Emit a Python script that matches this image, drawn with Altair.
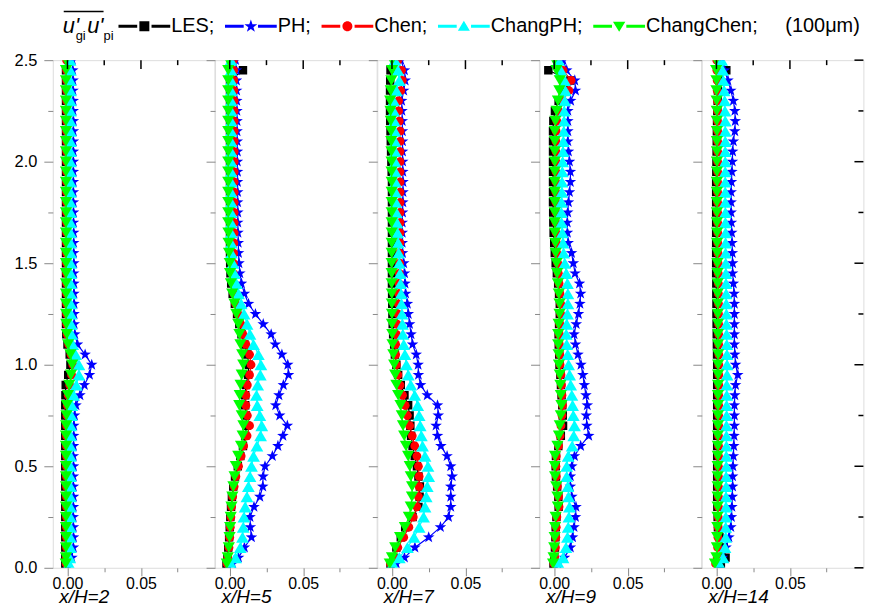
import altair as alt
import pandas as pd

FONT = "Liberation Sans"

# ---------------- data ----------------
Y = [0.02, 0.05, 0.1, 0.15, 0.2, 0.25, 0.3, 0.35, 0.4, 0.45,
     0.5, 0.55, 0.6, 0.65, 0.7, 0.75, 0.8, 0.85, 0.9, 0.95,
     1.0, 1.05, 1.1, 1.15, 1.2, 1.25, 1.3, 1.35, 1.4, 1.45,
     1.5, 1.55, 1.6, 1.65, 1.7, 1.75, 1.8, 1.85, 1.9, 1.95,
     2.0, 2.05, 2.1, 2.15, 2.2, 2.25, 2.3, 2.35, 2.4, 2.45,
     2.5]

PANELS = [2, 5, 7, 9, 14]
SERIES = ["LES", "PH", "Chen", "ChangPH", "ChangChen"]
COLORS = ["#000000", "#0000ff", "#ff0000", "#00ffff", "#00ff00"]

X_MAJOR = [0.0, 0.05]
X_MINOR = [0.025, 0.075]
Y_MAJOR = [0.0, 0.5, 1.0, 1.5, 2.0, 2.5]
Y_MINOR = [0.25, 0.75, 1.25, 1.75, 2.25]

# x/H = 2
LES_2 = [-0.0015, -0.0015, -0.0015, -0.0015, -0.0015, -0.0015, -0.0015, -0.0015, -0.0015, -0.0015,
         -0.0015, -0.0015, -0.0015, -0.0015, -0.0015, -0.0015, -0.0015, -0.0014, -0.0012, 0.0005,
         0.002, 0.0015, 0.0, -0.0008, -0.001, -0.001, -0.001, -0.001, -0.001, -0.001,
         -0.001, -0.001, -0.001, -0.001, -0.001, -0.001, -0.001, -0.001, -0.001, -0.001,
         -0.001, -0.001, -0.001, -0.001, -0.001, -0.001, -0.001, -0.001, -0.001, -0.001,
         None]
PH_2 = [0.0, 0.003, 0.004, 0.0041, 0.004, 0.0039, 0.004, 0.0041, 0.004, 0.004,
        0.0041, 0.004, 0.0041, 0.0042, 0.0043, 0.0048, 0.0058, 0.0085, 0.0115, 0.015,
        0.0165, 0.012, 0.0068, 0.005, 0.0046, 0.0045, 0.0045, 0.0044, 0.0044, 0.0043,
        0.0043, 0.0042, 0.0042, 0.0042, 0.0041, 0.0041, 0.004, 0.004, 0.004, 0.004,
        0.004, 0.004, 0.004, 0.004, 0.004, 0.0039, 0.0039, 0.0038, 0.0038, 0.0036,
        0.0034]
CHEN_2 = [-0.0009, -0.0008, -0.0007, -0.0007, -0.0007, -0.0007, -0.0007, -0.0007, -0.0007, -0.0007,
          -0.0007, -0.0007, -0.0007, -0.0007, -0.0006, -0.0004, -0.0001, 0.0005, 0.0015, 0.0028,
          0.0036, 0.0024, 0.0008, -0.0002, -0.0005, -0.0006, -0.0006, -0.0006, -0.0006, -0.0006,
          -0.0006, -0.0006, -0.0006, -0.0006, -0.0006, -0.0006, -0.0006, -0.0006, -0.0006, -0.0006,
          -0.0006, -0.0006, -0.0006, -0.0006, -0.0006, -0.0006, -0.0006, -0.0006, -0.0006, -0.0006,
          -0.0006]
CPH_2 = [0.001, 0.0015, 0.002, 0.002, 0.002, 0.002, 0.002, 0.002, 0.002, 0.002,
         0.002, 0.002, 0.002, 0.0021, 0.0022, 0.0026, 0.003, 0.0042, 0.006, 0.0078,
         0.0078, 0.0055, 0.0036, 0.0028, 0.0025, 0.0024, 0.0023, 0.0023, 0.0022, 0.0022,
         0.0022, 0.0022, 0.0021, 0.0021, 0.0021, 0.0021, 0.002, 0.002, 0.002, 0.002,
         0.002, 0.002, 0.002, 0.002, 0.002, 0.002, 0.002, 0.002, 0.0019, 0.0019,
         0.0018]
CCH_2 = [-0.0012, -0.001, -0.001, -0.001, -0.001, -0.001, -0.001, -0.001, -0.001, -0.001,
         -0.001, -0.001, -0.001, -0.001, -0.0009, -0.0007, -0.0004, 0.0003, 0.0012, 0.0024,
         0.0032, 0.002, 0.0004, -0.0005, -0.0008, -0.0009, -0.001, -0.001, -0.001, -0.001,
         -0.001, -0.001, -0.001, -0.001, -0.001, -0.001, -0.001, -0.001, -0.001, -0.001,
         -0.001, -0.001, -0.001, -0.001, -0.001, -0.001, -0.001, -0.001, -0.001, -0.001,
         -0.001]

# x/H = 5
LES_5 = [-0.0022, -0.0016, -0.001, -0.0004, 0.0, 0.0004, 0.0009, 0.0015, 0.0024, 0.0036,
         0.0055, 0.0072, 0.009, 0.0105, 0.0115, 0.011, 0.0105, 0.0105, 0.011, 0.0125,
         0.013, 0.012, 0.01, 0.008, 0.0065, 0.005, 0.0035, 0.002, 0.001, 0.0005,
         0.0003, 0.0002, 0.0002, 0.0002, 0.0002, 0.0002, 0.0002, 0.0002, 0.0002, 0.0002,
         0.0002, 0.0002, 0.0002, 0.0002, 0.0002, 0.0002, 0.0002, 0.0002, 0.0002, 0.009,
         None]
PH_5 = [0.002, 0.006, 0.01, 0.0148, 0.014, 0.0138, 0.0165, 0.0205, 0.0225, 0.0227,
        0.024, 0.029, 0.0328, 0.0362, 0.0392, 0.034, 0.0313, 0.0335, 0.0365, 0.04,
        0.0395, 0.0355, 0.031, 0.0282, 0.0228, 0.0175, 0.0128, 0.01, 0.008, 0.0069,
        0.0063, 0.006, 0.0058, 0.0056, 0.0055, 0.0055, 0.0054, 0.0054, 0.0053, 0.0053,
        0.0052, 0.0052, 0.0051, 0.005, 0.005, 0.0049, 0.0048, 0.0047, 0.0046, 0.0045,
        0.004]
CHEN_5 = [-0.0018, -0.0012, -0.0005, 0.0, 0.0004, 0.0008, 0.0013, 0.002, 0.003, 0.0042,
          0.006, 0.0078, 0.0095, 0.0118, 0.0135, 0.012, 0.011, 0.011, 0.012, 0.0135,
          0.0145, 0.0135, 0.011, 0.009, 0.0075, 0.0055, 0.004, 0.0028, 0.0024, 0.0024,
          0.0025, 0.0027, 0.0028, 0.003, 0.003, 0.003, 0.003, 0.003, 0.003, 0.003,
          0.003, 0.003, 0.003, 0.003, 0.003, 0.003, 0.003, 0.0029, 0.0028, 0.0027,
          0.0025]
CPH_5 = [0.0008, 0.004, 0.0072, 0.0087, 0.0092, 0.0097, 0.0105, 0.0117, 0.0127, 0.0138,
         0.0148, 0.0162, 0.0185, 0.021, 0.0218, 0.0205, 0.0187, 0.0182, 0.019, 0.0208,
         0.0212, 0.0195, 0.0162, 0.0138, 0.0118, 0.0098, 0.0078, 0.006, 0.0045, 0.0032,
         0.0022, 0.0012, 0.001, 0.001, 0.001, 0.001, 0.001, 0.001, 0.001, 0.001,
         0.001, 0.001, 0.001, 0.001, 0.001, 0.001, 0.001, 0.001, 0.001, 0.0009,
         0.0008]
CCH_5 = [-0.002, -0.0013, -0.0006, -0.0001, 0.0003, 0.0007, 0.0012, 0.0018, 0.0025, 0.0033,
         0.0042, 0.0058, 0.0077, 0.0088, 0.0093, 0.0082, 0.0065, 0.0068, 0.0074, 0.0082,
         0.0092, 0.0085, 0.0073, 0.0066, 0.0058, 0.0045, 0.0032, 0.0017, 0.0008, 0.0002,
         0.0, -0.0005, -0.0008, -0.0009, -0.001, -0.001, -0.001, -0.001, -0.001, -0.001,
         -0.001, -0.001, -0.001, -0.001, -0.001, -0.001, -0.001, -0.001, -0.001, -0.001,
         -0.001]

# x/H = 7
LES_7 = [-0.001, 0.001, 0.003, 0.006, 0.009, 0.014, 0.018, 0.0188, 0.019, 0.018,
         0.017, 0.0155, 0.014, 0.013, 0.0125, 0.012, 0.011, 0.0085, 0.006, 0.0042,
         0.003, 0.002, 0.0015, 0.0008, 0.0005, 0.0003, 0.0002, 0.0001, 0.0, 0.0,
         0.0, 0.0, 0.0, 0.0, 0.0, 0.0, 0.0, 0.0, 0.0, -0.0002,
         -0.0004, -0.0006, -0.0008, -0.001, -0.0012, -0.0013, -0.0013, -0.0013, -0.0012, -0.001,
         None]
PH_7 = [0.003, 0.0085, 0.0156, 0.025, 0.033, 0.0385, 0.04, 0.04, 0.04, 0.041,
        0.04, 0.0375, 0.0333, 0.031, 0.03, 0.0315, 0.031, 0.024, 0.0195, 0.018,
        0.0178, 0.0165, 0.014, 0.013, 0.012, 0.0111, 0.0105, 0.0093, 0.0089, 0.0086,
        0.008, 0.0072, 0.007, 0.007, 0.007, 0.0072, 0.0074, 0.0075, 0.0075, 0.0074,
        0.0073, 0.0072, 0.0072, 0.0071, 0.007, 0.0068, 0.0066, 0.008, 0.009, 0.0085,
        0.006]
CHEN_7 = [-0.001, 0.001, 0.004, 0.008, 0.0115, 0.0145, 0.017, 0.018, 0.0185, 0.0185,
          0.018, 0.017, 0.0155, 0.0138, 0.012, 0.0105, 0.009, 0.0072, 0.0055, 0.004,
          0.003, 0.0025, 0.0025, 0.003, 0.0035, 0.004, 0.0043, 0.0046, 0.0048, 0.005,
          0.0052, 0.0053, 0.0054, 0.0055, 0.0055, 0.0055, 0.0055, 0.0055, 0.0055, 0.0055,
          0.0055, 0.0055, 0.0055, 0.0055, 0.005, 0.0045, 0.0045, 0.006, 0.007, 0.0065,
          0.004]
CPH_7 = [0.0005, 0.005, 0.0105, 0.015, 0.0185, 0.0215, 0.0225, 0.0233, 0.024, 0.025,
         0.0245, 0.0225, 0.0208, 0.02, 0.0192, 0.0185, 0.0175, 0.0155, 0.0128, 0.0111,
         0.0098, 0.0088, 0.008, 0.0074, 0.0071, 0.0068, 0.0065, 0.0062, 0.0058, 0.0055,
         0.005, 0.0046, 0.0042, 0.0038, 0.0034, 0.003, 0.0027, 0.0025, 0.0024, 0.0023,
         0.0022, 0.0022, 0.0021, 0.002, 0.0016, 0.0012, 0.0011, 0.003, 0.005, 0.004,
         0.002]
CCH_7 = [-0.0015, 0.0, 0.0022, 0.0055, 0.0088, 0.0115, 0.0128, 0.0136, 0.0137, 0.0128,
         0.0121, 0.011, 0.0095, 0.0083, 0.0075, 0.0067, 0.0058, 0.0042, 0.003, 0.0022,
         0.0015, 0.0009, 0.0004, 0.0002, 0.0, 0.0, -0.0001, -0.0001, -0.0002, -0.0002,
         -0.0002, -0.0002, -0.0002, -0.0002, -0.0002, -0.0002, -0.0002, -0.0002, -0.0002, -0.0003,
         -0.0003, -0.0004, -0.0005, -0.0006, -0.0008, -0.001, -0.0012, -0.0008, -0.0004, 0.0,
         0.0]

# x/H = 9
LES_9 = [-0.0005, 0.0, 0.0005, 0.0008, 0.001, 0.0015, 0.003, 0.0028, 0.002, 0.0012,
         0.001, 0.0012, 0.0028, 0.0045, 0.006, 0.0058, 0.0055, 0.005, 0.0046, 0.0042,
         0.0036, 0.0034, 0.0031, 0.003, 0.0033, 0.0038, 0.0038, 0.0033, 0.0027, 0.0018,
         0.001, 0.0004, 0.0, -0.0004, -0.0006, -0.0007, -0.0008, -0.0008, -0.0008, -0.0008,
         -0.0008, -0.0008, -0.0008, -0.0008, -0.0006, 0.0005, 0.003, 0.007, 0.011, -0.004,
         None]
PH_9 = [0.0025, 0.007, 0.011, 0.0125, 0.0135, 0.0145, 0.0148, 0.012, 0.011, 0.011,
        0.012, 0.0138, 0.018, 0.0235, 0.0222, 0.0218, 0.0225, 0.0216, 0.0205, 0.0195,
        0.0182, 0.0162, 0.0145, 0.0135, 0.015, 0.0165, 0.0175, 0.018, 0.0172, 0.0142,
        0.013, 0.0118, 0.0095, 0.009, 0.0089, 0.0092, 0.0097, 0.0104, 0.011, 0.011,
        0.0104, 0.0097, 0.0093, 0.0093, 0.0093, 0.0093, 0.0112, 0.0145, 0.014, 0.0085,
        0.006]
CHEN_9 = [-0.0002, 0.0004, 0.0008, 0.0011, 0.0014, 0.0018, 0.0033, 0.003, 0.0022, 0.0014,
          0.0012, 0.0014, 0.003, 0.004, 0.0046, 0.0053, 0.0057, 0.0053, 0.005, 0.0046,
          0.004, 0.0038, 0.0035, 0.0035, 0.0038, 0.0044, 0.0044, 0.0039, 0.0033, 0.0028,
          0.0024, 0.0018, 0.0016, 0.0013, 0.0012, 0.0012, 0.0012, 0.0012, 0.0012, 0.0012,
          0.0012, 0.0012, 0.0012, 0.0013, 0.0018, 0.003, 0.006, 0.01, 0.0115, 0.006,
          0.002]
CPH_9 = [0.003, 0.006, 0.008, 0.009, 0.0095, 0.01, 0.0104, 0.0098, 0.0093, 0.0085,
         0.0085, 0.0095, 0.0122, 0.0133, 0.0138, 0.013, 0.0125, 0.012, 0.0112, 0.0105,
         0.0098, 0.0092, 0.0085, 0.0082, 0.0085, 0.009, 0.0093, 0.0093, 0.009, 0.0082,
         0.0072, 0.0064, 0.006, 0.0055, 0.005, 0.0049, 0.005, 0.0052, 0.0053, 0.0055,
         0.0057, 0.006, 0.0062, 0.0065, 0.0067, 0.0068, 0.0072, 0.0076, 0.0071, 0.0045,
         0.003]
CCH_9 = [-0.0008, -0.0004, 0.0, 0.0003, 0.0006, 0.001, 0.0025, 0.0022, 0.0014, 0.0006,
         0.0004, 0.0006, 0.0022, 0.0032, 0.0038, 0.0045, 0.0049, 0.0045, 0.0042, 0.0038,
         0.0032, 0.003, 0.0027, 0.0027, 0.003, 0.0036, 0.0036, 0.0031, 0.0025, 0.002,
         0.0016, 0.001, 0.0008, 0.0005, 0.0004, 0.0004, 0.0004, 0.0004, 0.0004, 0.0004,
         0.0004, 0.0004, 0.0004, 0.0004, 0.0008, 0.0016, 0.0025, 0.0035, 0.0038, 0.0015,
         0.0]

# x/H = 14
LES_14 = [0.003, 0.0062, 0.005, 0.002, 0.001, 0.0008, 0.0006, 0.0005, 0.0005, 0.0005,
          0.0005, 0.0005, 0.0005, 0.0005, 0.0005, 0.0005, 0.0005, 0.0005, 0.0005, 0.0005,
          0.0005, 0.0004, 0.0003, 0.0002, 0.0001, 0.0, 0.0, -0.0001, -0.0001, -0.0002,
          -0.0002, -0.0002, -0.0002, -0.0002, -0.0002, -0.0002, -0.0002, -0.0002, -0.0002, -0.0001,
          0.0, 0.0001, 0.0002, 0.0003, 0.0004, 0.0006, 0.0008, 0.001, 0.002, 0.0067,
          None]
PH_14 = [0.001, 0.004, 0.0065, 0.0085, 0.0098, 0.0102, 0.0105, 0.0108, 0.011, 0.011,
         0.0112, 0.0115, 0.0118, 0.012, 0.0122, 0.0122, 0.0122, 0.0125, 0.013, 0.0145,
         0.013, 0.0125, 0.0122, 0.0122, 0.0122, 0.0122, 0.0122, 0.012, 0.0115, 0.011,
         0.011, 0.0108, 0.0106, 0.0104, 0.0102, 0.01, 0.01, 0.01, 0.0102, 0.0105,
         0.0108, 0.011, 0.0115, 0.0125, 0.0128, 0.0125, 0.0115, 0.0098, 0.0078, 0.0055,
         0.0035]
CHEN_14 = [-0.0006, 0.0005, 0.0008, 0.001, 0.0011, 0.0012, 0.0013, 0.0013, 0.0013, 0.0013,
           0.0013, 0.0014, 0.0014, 0.0014, 0.0015, 0.0015, 0.0015, 0.0015, 0.0016, 0.0016,
           0.0016, 0.0016, 0.0015, 0.0015, 0.0015, 0.0014, 0.0014, 0.0013, 0.0013, 0.0012,
           0.0011, 0.001, 0.0009, 0.0009, 0.0008, 0.0008, 0.0008, 0.0008, 0.0008, 0.0008,
           0.0008, 0.0008, 0.0008, 0.0008, 0.0007, 0.0007, 0.0006, 0.0005, 0.0005, 0.0003,
           0.0002]
CPH_14 = [0.002, 0.0045, 0.0058, 0.0063, 0.0063, 0.0064, 0.0065, 0.0065, 0.0066, 0.0066,
          0.0067, 0.0067, 0.0068, 0.0068, 0.0068, 0.0069, 0.0069, 0.007, 0.007, 0.0072,
          0.0072, 0.0071, 0.007, 0.0069, 0.0068, 0.0068, 0.0067, 0.0066, 0.0065, 0.0064,
          0.0063, 0.0062, 0.0062, 0.0062, 0.0061, 0.0061, 0.006, 0.006, 0.006, 0.006,
          0.006, 0.006, 0.006, 0.006, 0.006, 0.0058, 0.0056, 0.0052, 0.0047, 0.0042,
          0.0035]
CCH_14 = [-0.001, 0.0, 0.0003, 0.0005, 0.0006, 0.0007, 0.0008, 0.0008, 0.0008, 0.0008,
          0.0008, 0.0009, 0.0009, 0.0009, 0.001, 0.001, 0.001, 0.001, 0.0011, 0.0011,
          0.0011, 0.0011, 0.001, 0.001, 0.001, 0.0009, 0.0009, 0.0008, 0.0008, 0.0007,
          0.0006, 0.0005, 0.0004, 0.0004, 0.0003, 0.0003, 0.0003, 0.0003, 0.0003, 0.0003,
          0.0003, 0.0003, 0.0003, 0.0003, 0.0002, 0.0002, 0.0001, 0.0, 0.0, -0.0002,
          -0.0003]

DATA = {
    2: [LES_2, PH_2, CHEN_2, CPH_2, CCH_2],
    5: [LES_5, PH_5, CHEN_5, CPH_5, CCH_5],
    7: [LES_7, PH_7, CHEN_7, CPH_7, CCH_7],
    9: [LES_9, PH_9, CHEN_9, CPH_9, CCH_9],
    14: [LES_14, PH_14, CHEN_14, CPH_14, CCH_14],
}

rows = []
for p in PANELS:
    for s, vals in zip(SERIES, DATA[p]):
        for yv, xv in zip(Y, vals):
            if xv is not None:
                rows.append({"panel": p, "series": s, "x": xv, "y": yv})
df = pd.DataFrame(rows)

# ---------------- styling ----------------
W, H = 162.4, 510

STAR = ("M0,-1L0.235,-0.324L0.951,-0.309L0.38,0.124L0.588,0.809L0,0.4"
        "L-0.588,0.809L-0.38,0.124L-0.951,-0.309L-0.235,-0.324Z")
MARKERS = {
    "LES": ("square", 72),
    "PH": (STAR, 150),
    "Chen": ("circle", 78),
    "ChangPH": ("triangle-up", 165),
    "ChangChen": ("triangle-down", 150),
}
# legend symbols: line - marker - line (unit = 10 px with symbolSize 400)
STUBS = "M-2.6,-0.15H-0.72V0.15H-2.6Z M0.72,-0.15H2.6V0.15H0.72Z "
LEGEND_SHAPES = [
    STUBS + "M-0.5,-0.5H0.5V0.5H-0.5Z",
    STUBS + ("M0,-0.68L0.159,-0.218L0.647,-0.21L0.257,0.083L0.4,0.55L0,0.27"
             "L-0.4,0.55L-0.257,0.083L-0.647,-0.21L-0.159,-0.218Z"),
    STUBS + "M-0.5,0A0.5,0.5,0,1,1,0.5,0A0.5,0.5,0,1,1,-0.5,0Z",
    STUBS + "M0,-0.55L0.6,0.45L-0.6,0.45Z",
    STUBS + "M0,0.55L0.62,-0.45L-0.62,-0.45Z",
]

XT = "abs(datum.value*20 - round(datum.value*20)) < 0.001"
YT = "abs(datum.value*2 - round(datum.value*2)) < 0.001"

xscale = alt.Scale(domain=[-0.01, 0.1], nice=False, zero=False)
yscale = alt.Scale(domain=[0, 2.5], nice=False, zero=False)

one = pd.DataFrame({"k": [0]})


def panel(idx, p):
    xenc = alt.X(
        "x:Q", scale=xscale,
        axis=alt.Axis(
            values=sorted(X_MAJOR + X_MINOR),
            labelExpr=f"{XT} ? format(datum.value, '.2f') : ''",
            tickSize={"condition": {"test": XT, "value": 8}, "value": 4},
            labelPadding=0, labelFontSize=16, labelOverlap=False, labelFlush=False,
            title=f"x/H={p}", titleX=6, titleY=35, titleAlign="left",
            titleBaseline="alphabetic", titleFontStyle="italic", titleFontSize=19,
            titleFontWeight="normal", grid=False, domain=False,
        ),
    )
    yaxis = dict(
        values=sorted(Y_MAJOR + Y_MINOR),
        tickSize={"condition": {"test": YT, "value": 9}, "value": 5},
        title=None, grid=False, domain=False, labelOverlap=False,
    )
    if idx == 0:
        yaxis.update(labelExpr=f"{YT} ? format(datum.value, '.1f') : ''",
                     labelPadding=7, labelFontSize=16.5)
    else:
        yaxis.update(labels=False)
    yenc = alt.Y("y:Q", scale=yscale, axis=alt.Axis(**yaxis))

    layers = []
    for s, c in zip(SERIES, COLORS):
        sel = (alt.datum.panel == p) & (alt.datum.series == s)
        layers.append(
            alt.Chart().transform_filter(sel)
            .mark_line(color=c, strokeWidth=1.2, clip=True)
            .encode(x=xenc, y=yenc, order=alt.Order("y:Q"))
        )
        shp, sz = MARKERS[s]
        layers.append(
            alt.Chart().transform_filter(sel)
            .mark_point(shape=shp, size=sz, filled=True, color=c, opacity=1, clip=True)
            .encode(x=xenc, y=yenc)
        )
    # inward ticks on the top edge
    layers.append(alt.Chart(pd.DataFrame({"x": X_MAJOR})).mark_rule(color="black", strokeWidth=1.5)
                  .encode(x=xenc, y=alt.value(0), y2=alt.value(9)))
    layers.append(alt.Chart(pd.DataFrame({"x": X_MINOR})).mark_rule(color="black", strokeWidth=1.5)
                  .encode(x=xenc, y=alt.value(0), y2=alt.value(5)))
    if idx == len(PANELS) - 1:
        layers.append(alt.Chart(pd.DataFrame({"y": Y_MAJOR})).mark_rule(color="black", strokeWidth=1.5)
                      .encode(y=yenc, x=alt.value(W - 9), x2=alt.value(W)))
        layers.append(alt.Chart(pd.DataFrame({"y": Y_MINOR})).mark_rule(color="black", strokeWidth=1.5)
                      .encode(y=yenc, x=alt.value(W - 5), x2=alt.value(W)))
    if idx == 0:
        leg = alt.Legend(
            title=None, orient="none", legendX=82, legendY=-44, direction="horizontal",
            padding=0, symbolSize=400, symbolStrokeWidth=0, symbolOpacity=1, labelOffset=17,
            columnPadding=10, labelFont=FONT, labelFontSize=20, labelColor="black",
            labelLimit=400,
            labelExpr=("datum.label + ';' + (datum.label == 'ChangChen' ? "
                       "'\u00a0\u00a0\u00a0\u00a0\u00a0(100\u03bcm)' : '')"),
        )
        layers.append(
            alt.Chart(pd.DataFrame({"series": SERIES})).mark_point(filled=True, opacity=0)
            .encode(
                color=alt.Color("series:N", scale=alt.Scale(domain=SERIES, range=COLORS), legend=leg),
                shape=alt.Shape("series:N", scale=alt.Scale(domain=SERIES, range=LEGEND_SHAPES), legend=leg),
            )
        )
        # legend prefix: overline(u'_gi u'_pi)
        for t, xx, yy, fs, st in [("u'", 10, -27.5, 22, "italic"), ("gi", 23, -20.5, 13, "normal"),
                                  ("u'", 34.5, -27.5, 22, "italic"), ("pi", 51, -20.5, 13, "normal")]:
            layers.append(
                alt.Chart(one).mark_text(align="left", baseline="alphabetic", font=FONT,
                                         fontSize=fs, fontStyle=st, color="black")
                .encode(x=alt.value(xx), y=alt.value(yy), text=alt.value(t))
            )
        layers.append(alt.Chart(one).mark_rule(color="black", strokeWidth=1.5)
                      .encode(x=alt.value(11), x2=alt.value(51), y=alt.value(-49)))
    return alt.layer(*layers).properties(width=W, height=H)


panels = [panel(i, p) for i, p in enumerate(PANELS)]

chart = (
    alt.hconcat(*panels, spacing=0, bounds="flush", data=df,
                padding={"left": 5, "top": 0, "right": 0, "bottom": 0})
    .configure_view(stroke="black", strokeWidth=1.5)
    .configure_axis(labelFont=FONT, titleFont=FONT, labelColor="black", titleColor="black",
                    tickColor="black", tickWidth=1.5)
    .configure(background="white")
)

chart.save("out.html", embed_options={"renderer": "svg", "actions": False})
